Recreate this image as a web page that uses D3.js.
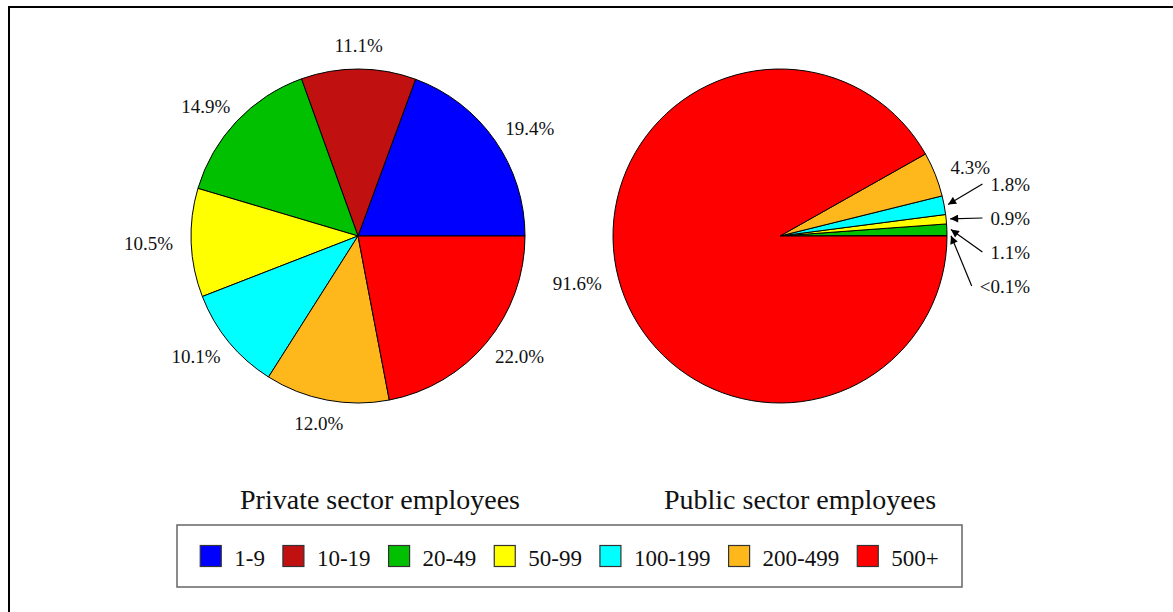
<!DOCTYPE html>
<html>
<head>
<meta charset="utf-8">
<script src="https://cdn.jsdelivr.net/npm/d3@7"></script>
<style>
body{margin:0;background:#fff;}
svg{display:block;}
text{font-family:"Liberation Serif","DejaVu Serif",serif;}
</style>
</head>
<body>
<svg id="svg_canvas" width="1173" height="612"></svg>
<script>

var size_classes=["1-9","10-19","20-49","50-99","100-199","200-499","500+"];
var class_colors=["#0000ff","#c01010","#00c000","#ffff00","#00ffff","#ffb81c","#ff0000"];
var private_values=[19.4,11.1,14.9,10.5,10.1,12.0,22.0];
var public_values=[0.05,0,1.1,0.9,1.8,4.3,91.6];
var pie_titles=["Private sector employees","Public sector employees"];

var serif_font="Liberation Serif, DejaVu Serif, serif";


function label_text(v){
	if(v<0.1){return "<0.1%";}
	return v.toFixed(1)+"%";
}

function start(){

	var svg=d3.select("#svg_canvas");

	//outer frame, only top and left edges fall inside the picture
	svg.append("rect")
		.attr("x",9).attr("y",7)
		.attr("width",1300).attr("height",800)
		.attr("fill","none").attr("stroke","black").attr("stroke-width",2);

	svg.append("defs").append("marker")
		.attr("id","to_arrow")
		.attr("viewBox","0 0 10 10")
		.attr("refX",10).attr("refY",5)
		.attr("markerWidth",10).attr("markerHeight",8)
		.attr("markerUnits","userSpaceOnUse")
		.attr("orient","auto")
		.append("path")
			.attr("d","M0,0 L10,5 L0,10 Z")
			.attr("fill","black");

	draw_pie(svg,private_values,358,236,pie_titles[0],380);
	draw_pie(svg,public_values,780,236,pie_titles[1],800);

	draw_legend(svg);
}


function draw_pie(svg,values,cx,cy,title,title_x){

	var radius=167;
	var label_r=185;

	var rows=[];
	values.forEach(function(v,i){
		if(v>0){ rows.push({value:v,cls:i}); }
	});

	//slices start at 3 o'clock and go counterclockwise
	var pie=d3.pie()
		.sort(null)
		.value(function(d){return d.value;})
		.startAngle(Math.PI/2)
		.endAngle(Math.PI/2-2*Math.PI);

	var arcs=pie(rows);
	var arc=d3.arc().innerRadius(0).outerRadius(radius);

	var g=svg.append("g").attr("transform","translate("+cx+","+cy+")");

	g.selectAll("path.slice").data(arcs)
		.enter().append("path")
			.attr("class","slice")
			.attr("d",arc)
			.attr("fill",function(d){return class_colors[d.data.cls];})
			.attr("stroke","black")
			.attr("stroke-width",1)
			.attr("stroke-linejoin","round");

	var small=[];
	arcs.forEach(function(d){
		d.phi=Math.PI/2-(d.startAngle+d.endAngle)/2;
		if(d.data.value<3){ small.push(d); }
	});

	//big slices: label straight out from the middle of the slice
	arcs.forEach(function(d){
		if(d.data.value<3){return;}
		var s=Math.sin(d.phi);
		var px=label_r*Math.cos(d.phi);
		var py=-(label_r+6*Math.abs(s))*s;
		var t=g.append("text")
			.attr("y",py)
			.attr("dy","0.35em")
			.attr("font-family",serif_font)
			.attr("font-size",19)
			.attr("fill","#111")
			.text(label_text(d.data.value));
		var w=t.node().getComputedTextLength();
		t.attr("x",px-w*(1-Math.cos(d.phi))/2);
	});

	//thin slices: stacked labels on the right with arrows
	small.sort(function(a,b){return b.phi-a.phi;});
	var col_x=radius+83;
	var top_y=-52;
	var step=34;
	small.forEach(function(d,i){
		var ly=top_y+i*step;
		var t=g.append("text")
			.attr("x",col_x)
			.attr("y",ly)
			.attr("dy","0.35em")
			.attr("text-anchor","end")
			.attr("font-family",serif_font)
			.attr("font-size",19)
			.attr("fill","#111")
			.text(label_text(d.data.value));
		var w=t.node().getComputedTextLength();
		var tip_r=radius+4;
		g.append("line")
			.attr("x1",col_x-w-8)
			.attr("y1",ly)
			.attr("x2",tip_r*Math.cos(d.phi))
			.attr("y2",-tip_r*Math.sin(d.phi))
			.attr("stroke","black")
			.attr("stroke-width",1.2)
			.attr("marker-end","url(#to_arrow)");
	});

	svg.append("text")
		.attr("x",title_x)
		.attr("y",509)
		.attr("text-anchor","middle")
		.attr("font-family",serif_font)
		.attr("font-size",28)
		.attr("fill","#111")
		.text(title);
}


function draw_legend(svg){

	var box_x=177, box_y=525, box_w=785, box_h=62;
	var sw=21;

	svg.append("rect")
		.attr("x",box_x).attr("y",box_y)
		.attr("width",box_w).attr("height",box_h)
		.attr("fill","white").attr("stroke","#666").attr("stroke-width",1.5);

	var lg=svg.append("g");
	var x=0;
	var mid_y=box_y+box_h/2;

	size_classes.forEach(function(name,i){
		lg.append("rect")
			.attr("x",x).attr("y",mid_y-sw/2)
			.attr("width",sw).attr("height",sw)
			.attr("fill",class_colors[i])
			.attr("stroke","#333").attr("stroke-width",1.2);
		var t=lg.append("text")
			.attr("x",x+sw+13)
			.attr("y",mid_y)
			.attr("dy","0.42em")
			.attr("font-family",serif_font)
			.attr("font-size",23)
			.attr("fill","#111")
			.text(name);
		x=x+sw+13+t.node().getComputedTextLength();
		if(i<size_classes.length-1){ x=x+18; }
	});

	lg.attr("transform","translate("+(box_x+(box_w-x)/2)+",0)");
}

start();
</script>
</body>
</html>
